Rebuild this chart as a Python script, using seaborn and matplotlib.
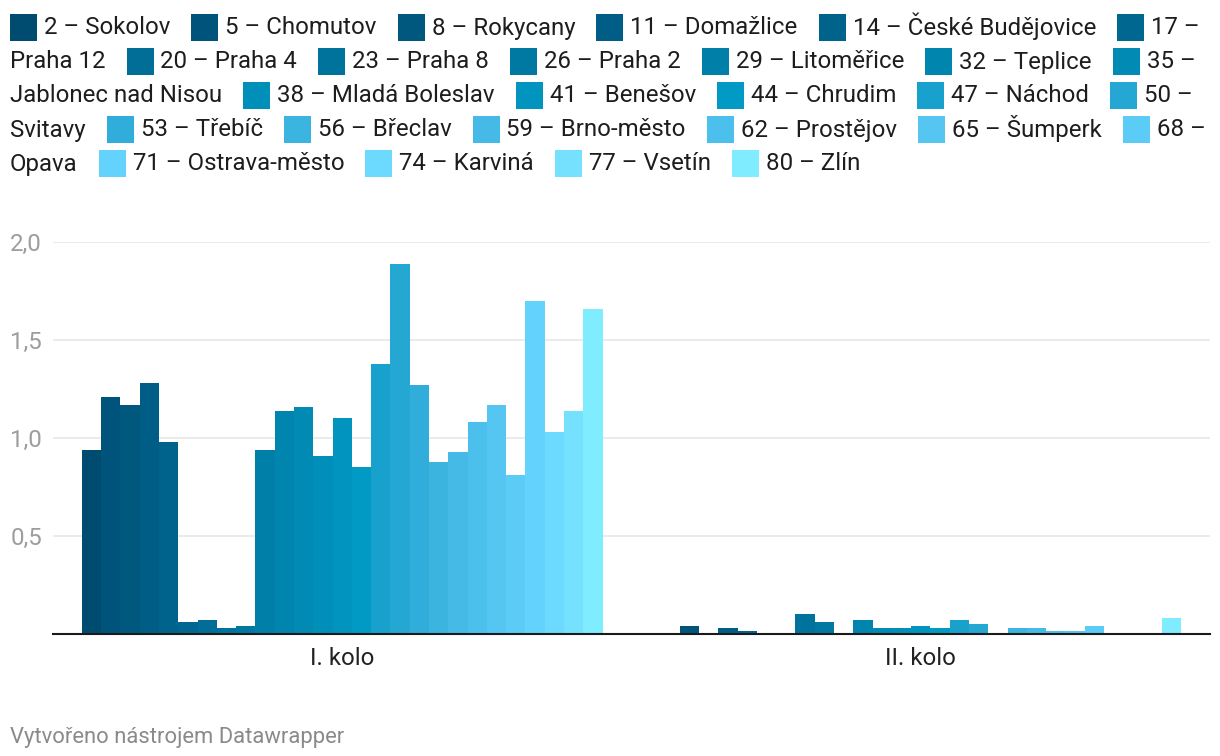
import numpy as np
import pandas as pd
import matplotlib
matplotlib.use("Agg")
import matplotlib.pyplot as plt
from matplotlib.patches import Rectangle
import seaborn as sns

# ---------------- data ----------------
rounds = ["I. kolo", "II. kolo"]
districts = ["2 – Sokolov", "5 – Chomutov", "8 – Rokycany", "11 – Domažlice",
             "14 – České Budějovice", "17 – Praha 12", "20 – Praha 4", "23 – Praha 8",
             "26 – Praha 2", "29 – Litoměřice", "32 – Teplice", "35 – Jablonec nad Nisou",
             "38 – Mladá Boleslav", "41 – Benešov", "44 – Chrudim", "47 – Náchod",
             "50 – Svitavy", "53 – Třebíč", "56 – Břeclav", "59 – Brno-město",
             "62 – Prostějov", "65 – Šumperk", "68 – Opava", "71 – Ostrava-město",
             "74 – Karviná", "77 – Vsetín", "80 – Zlín"]
round1 = [0.94, 1.21, 1.17, 1.28, 0.98, 0.06, 0.07, 0.03, 0.04, 0.94, 1.14, 1.16, 0.91,
          1.10, 0.85, 1.38, 1.89, 1.27, 0.88, 0.93, 1.08, 1.17, 0.81, 1.70, 1.03, 1.14, 1.66]
round2 = [0.00, 0.04, 0.007, 0.03, 0.015, 0.00, 0.005, 0.10, 0.06, 0.005, 0.07, 0.03, 0.03,
          0.04, 0.03, 0.07, 0.05, 0.005, 0.03, 0.03, 0.015, 0.015, 0.04, 0.00, 0.00, 0.00, 0.08]
yticks = [0.5, 1.0, 1.5, 2.0]
ytick_labels = ["0,5", "1,0", "1,5", "2,0"]
footer = "Vytvořeno nástrojem Datawrapper"

colors = ["#004c71", "#00537a", "#00587f", "#005d85", "#00638b", "#006890", "#006e96",
          "#00739c", "#0079a2", "#007fa8", "#0085ae", "#008ab4", "#008fb9", "#0094bf",
          "#009ac5", "#19a1cd", "#25a7d3", "#30addb", "#3bb4e0", "#45bae6", "#4cc0ec",
          "#54c6f1", "#5bccf6", "#63d3fd", "#6cd9ff", "#75e1ff", "#80ecff"]

rows = []
for i, d in enumerate(districts):
    rows.append((rounds[0], d, round1[i]))
    rows.append((rounds[1], d, round2[i]))
df = pd.DataFrame(rows, columns=["kolo", "okres", "hodnota"])

# ---------------- style ----------------
sns.set_theme(style="white")
plt.rcParams["font.family"] = ["Roboto", "DejaVu Sans"]
FS = 17.3

W, H = 1220, 756
fig = plt.figure(figsize=(W / 100, H / 100), dpi=100)
ax = fig.add_axes([53 / W, 1 - 634 / H, (1210 - 53) / W, (634 - 242) / H])

sns.barplot(data=df, x="kolo", y="hodnota", hue="okres", order=rounds,
            hue_order=districts, palette=colors, width=0.9, gap=0, saturation=1,
            errorbar=None, linewidth=0, legend=False, ax=ax)

ax.set_xlim(-0.5, 1.5)
ax.set_ylim(0, 2.0)
ax.set_yticks(yticks, ytick_labels)
ax.set_xlabel("")
ax.set_ylabel("")
ax.set_axisbelow(True)
ax.yaxis.grid(True, color="#e6e6e6", linewidth=1.1)
ax.xaxis.grid(False)
for s in ["top", "right", "left"]:
    ax.spines[s].set_visible(False)
ax.spines["bottom"].set_color("#1a1a1a")
ax.spines["bottom"].set_linewidth(1.5)
ax.spines["bottom"].set_zorder(5)
ax.tick_params(axis="y", length=0, pad=8, labelsize=FS, labelcolor="#9d9d9d")
ax.tick_params(axis="x", length=0, pad=9.5, labelsize=FS, labelcolor="#222222")

# ---------------- legend (flowing, wrapping like inline text) ----------------
fig.canvas.draw()
renderer = fig.canvas.get_renderer()


def tw(s):
    t = fig.text(0, 0, s, fontsize=FS)
    w = t.get_window_extent(renderer).width
    t.remove()
    return w


x0, xmax = 10, 1212
sw, gap_sw, gap_item = 27, 7, 21
line_h, yc0 = 34, 27.5
x, line = x0, 0


def put_text(s, x, line):
    yb = yc0 + line * line_h + 7
    fig.text(x / W, 1 - yb / H, s, fontsize=FS, color="#1d1d1d", va="baseline", ha="left")


for name, col in zip(districts, colors):
    words = name.split(" ")
    if x > x0 and x + sw + gap_sw + tw(words[0]) > xmax:
        x, line = x0, line + 1
    yc = yc0 + line * line_h
    fig.add_artist(Rectangle((x / W, 1 - (yc + sw / 2) / H), sw / W, sw / H,
                             transform=fig.transFigure, facecolor=col, edgecolor="none"))
    x += sw + gap_sw
    while words:
        k = len(words)
        while k > 1 and x + tw(" ".join(words[:k])) > xmax:
            k -= 1
        s = " ".join(words[:k])
        put_text(s, x, line)
        x += tw(s)
        words = words[k:]
        if words:
            x, line = x0, line + 1
    x += gap_item

# ---------------- footer ----------------
fig.text(10 / W, 1 - 743 / H, footer, fontsize=15.8, color="#8a8a8a", va="baseline", ha="left")

fig.savefig("out.png", dpi=100)
